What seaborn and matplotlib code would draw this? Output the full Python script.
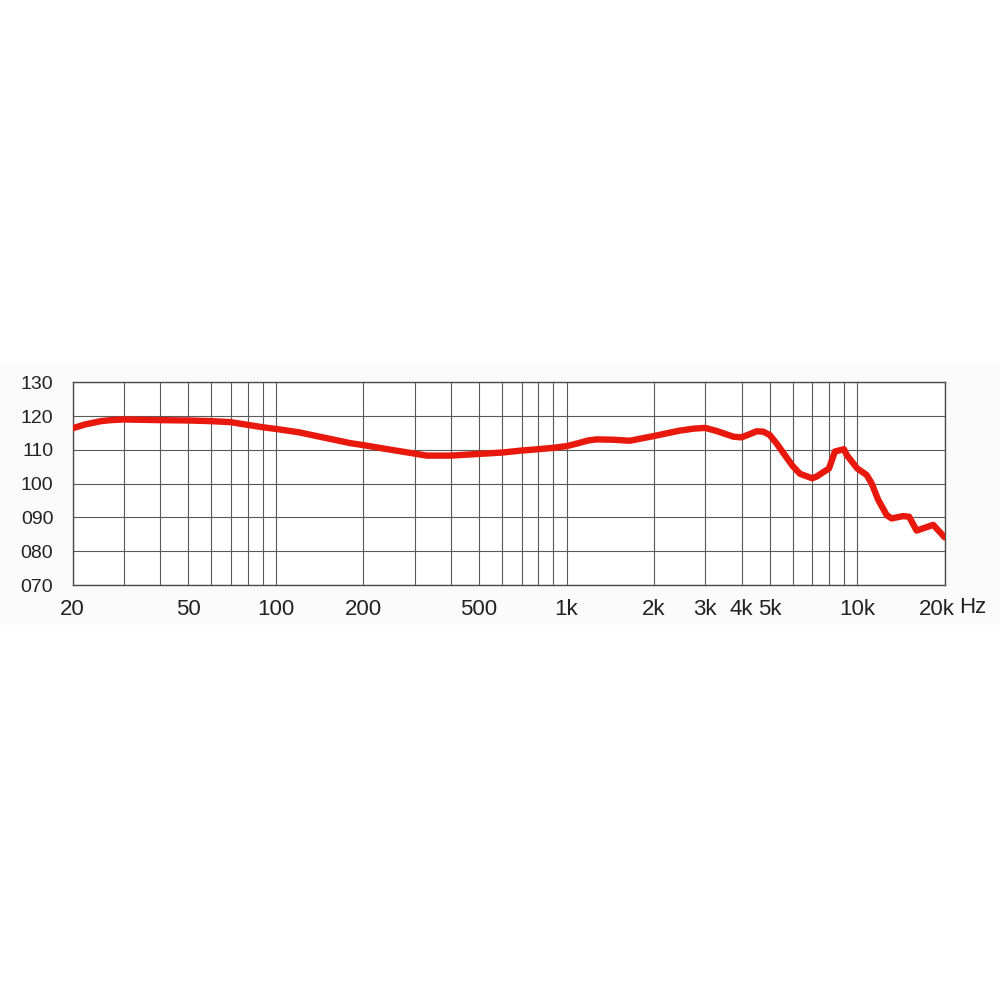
import numpy as np
import pandas as pd
import matplotlib.pyplot as plt
import matplotlib.ticker as mticker
import matplotlib.transforms as mtransforms
from matplotlib.patches import Rectangle
import seaborn as sns

# frequency response values
freq = [20, 22, 25, 27, 30, 40, 50, 60, 70, 80, 90, 100, 120, 180, 200, 250,
        300, 330, 400, 500, 600, 700, 800, 900, 1000, 1100, 1190, 1270, 1450,
        1650, 2000, 2450, 2750, 3000, 3280, 3750, 4000, 4280, 4510, 4750,
        5000, 5280, 6000, 6360, 7000, 7250, 8000, 8380, 9000, 9200, 10000,
        10770, 11210, 11810, 12630, 13130, 14390, 15090, 16010, 18260, 20000]
spl = [116.4, 117.5, 118.5, 118.8, 119.0, 118.8, 118.7, 118.5, 118.2, 117.4,
       116.7, 116.2, 115.2, 112.0, 111.4, 110.0, 108.9, 108.3, 108.3, 108.8,
       109.2, 109.8, 110.2, 110.6, 111.1, 112.0, 112.8, 113.1, 113.0, 112.7,
       114.1, 115.7, 116.3, 116.5, 115.6, 113.9, 113.7, 114.7, 115.5, 115.4,
       114.4, 111.9, 105.2, 102.9, 101.6, 102.1, 104.5, 109.5, 110.2, 108.5,
       104.5, 102.6, 100.1, 95.2, 90.7, 89.7, 90.4, 90.2, 86.1, 87.8, 84.1]

x_ticks = [20, 50, 100, 200, 500, 1000, 2000, 3000, 4000, 5000, 10000, 20000]
x_labels = ['20', '50', '100', '200', '500', '1k', '2k', '3k', '4k', '5k', '10k', '20k']
y_ticks = [70, 80, 90, 100, 110, 120, 130]
y_labels = ['070', '080', '090', '100', '110', '120', '130']
grid_freqs = [30, 40, 50, 60, 70, 80, 90, 100, 200, 300, 400, 500, 600, 700,
              800, 900, 1000, 2000, 3000, 4000, 5000, 6000, 7000, 8000, 9000, 10000]

sns.set_style('white')
plt.rcParams['font.family'] = ['Liberation Sans', 'DejaVu Sans']

df = pd.DataFrame({'freq': freq, 'spl': spl})

fig = plt.figure(figsize=(10, 10), dpi=100)
# faint band behind the chart
band = Rectangle((0, 0.375), 1, 0.262, transform=fig.transFigure,
                 facecolor='#fbfbfb', edgecolor='none', zorder=-10)
fig.patches.append(band)

ax = fig.add_axes([0.0727, 0.415, 0.872, 0.2027])
ax.set_facecolor('white')

sns.lineplot(data=df, x='freq', y='spl', ax=ax, color='#e8180d', linewidth=4.6,
             solid_capstyle='round', solid_joinstyle='round', zorder=3)

ax.set_xscale('log')
ax.set_xlim(20, 20000)
ax.set_ylim(70, 130)

ax.set_xticks(grid_freqs, minor=True)
ax.xaxis.set_minor_formatter(mticker.NullFormatter())
ax.set_xticks(x_ticks)
ax.set_xticklabels(x_labels)
ax.set_yticks(y_ticks)
ax.set_yticklabels(y_labels)

ax.grid(True, which='both', axis='x', color='#5a5a5a', linewidth=0.8)
ax.grid(True, which='major', axis='y', color='#5a5a5a', linewidth=0.8)
ax.tick_params(axis='both', which='both', length=0)
ax.tick_params(axis='x', labelsize=16, pad=10, labelcolor='#222222')
ax.tick_params(axis='y', labelsize=14, pad=14, labelcolor='#222222')
for s in ax.spines.values():
    s.set_color('#4a4a4a')
    s.set_linewidth(1.0)

# nudge the last label left so the unit fits after it
last = ax.get_xticklabels()[-1]
last.set_transform(last.get_transform() +
                   mtransforms.ScaledTranslation(-8 / 100, 0, fig.dpi_scale_trans))

ax.set_xlabel('')
ax.set_ylabel('')
ax.text(1.017, -0.113, 'Hz', transform=ax.transAxes, fontsize=16,
        color='#222222', ha='left', va='center')

fig.savefig('out.png', dpi=100)
